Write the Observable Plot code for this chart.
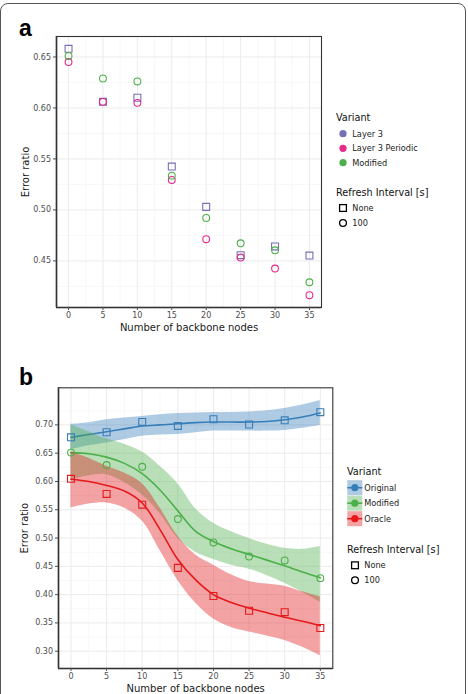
<!DOCTYPE html>
<html>
<head>
<meta charset="utf-8">
<script src="https://cdn.jsdelivr.net/npm/d3@7"></script>
<script src="https://cdn.jsdelivr.net/npm/@observablehq/plot@0.6"></script>
<style>
  body { margin: 0; background: #fff; }
  #fig { position: relative; width: 468px; height: 694px; font-family: "DejaVu Sans", sans-serif; overflow: hidden; }
  #border { position: absolute; left: 0; top: 3px; width: 464px; height: 710px; border: 1px solid #555; border-radius: 8px; }
  .panel { position: absolute; left: 0; }
  #overlay { position: absolute; left: 0; top: 0; pointer-events: none; }
</style>
</head>
<body>
<div id="fig"><div id="border"></div></div>
<script>
// ---- shared axis values ----
const nodes = [0, 5, 10, 15, 20, 25, 30, 35];
const xTicks = [0, 5, 10, 15, 20, 25, 30, 35];
const xMinor = [2.5, 7.5, 12.5, 17.5, 22.5, 27.5, 32.5];

// ---- panel a: error ratio per variant ----
const variantsA = ["Layer 3", "Layer 3 Periodic", "Modified"];
const intervalsA = ["None", "100", "100"];
const layer3 = [0.658, 0.606, 0.610, 0.5425, 0.503, 0.4556, 0.4642, 0.4552];
const layer3Periodic = [0.645, 0.606, 0.605, 0.5294, 0.4713, 0.4533, 0.4425, 0.4164];
const modified = [0.651, 0.629, 0.626, 0.5336, 0.4922, 0.4673, 0.4604, 0.4291];
const yTicksA = [0.45, 0.50, 0.55, 0.60, 0.65];
const yMinorA = [0.425, 0.475, 0.525, 0.575, 0.625];

// ---- panel b: error ratio with smoothed trend ----
const variantsB = ["Original", "Modified", "Oracle"];
const intervalsB = ["None", "100", "None"];
const original = [0.678, 0.687, 0.7053, 0.6982, 0.710, 0.7005, 0.708, 0.7224];
const oracle = [0.6047, 0.578, 0.559, 0.4473, 0.3976, 0.3715, 0.369, 0.341];
const yTicksB = [0.30, 0.35, 0.40, 0.45, 0.50, 0.55, 0.60, 0.65, 0.70];
const yMinorB = [0.275, 0.325, 0.375, 0.425, 0.475, 0.525, 0.575, 0.625, 0.675, 0.725];

// smoothed fit with its confidence band, sampled along the x axis
const smoothNodes = [0, 2.5, 5, 7.5, 10, 12.5, 15, 17.5, 20, 22.5, 25, 27.5, 30, 32.5, 35];
const originalFit  = [0.678, 0.683, 0.688, 0.693, 0.698, 0.700, 0.702, 0.704, 0.705, 0.705, 0.705, 0.706, 0.709, 0.714, 0.721];
const originalLow  = [0.656, 0.663, 0.668, 0.674, 0.680, 0.682, 0.683, 0.686, 0.689, 0.689, 0.689, 0.689, 0.690, 0.694, 0.699];
const originalHigh = [0.701, 0.704, 0.709, 0.712, 0.715, 0.718, 0.720, 0.721, 0.722, 0.722, 0.723, 0.725, 0.729, 0.735, 0.743];
const modifiedFit  = [0.651, 0.649, 0.643, 0.632, 0.614, 0.585, 0.548, 0.512, 0.494, 0.481, 0.471, 0.461, 0.451, 0.440, 0.430];
const modifiedLow  = [0.602, 0.610, 0.612, 0.598, 0.576, 0.543, 0.500, 0.475, 0.462, 0.452, 0.445, 0.434, 0.420, 0.404, 0.386];
const modifiedHigh = [0.700, 0.688, 0.675, 0.666, 0.652, 0.627, 0.596, 0.552, 0.526, 0.511, 0.499, 0.489, 0.482, 0.480, 0.485];
const oracleFit    = [0.604, 0.600, 0.593, 0.583, 0.562, 0.515, 0.462, 0.426, 0.400, 0.386, 0.376, 0.368, 0.360, 0.353, 0.345];
const oracleLow    = [0.553, 0.560, 0.562, 0.553, 0.530, 0.478, 0.425, 0.385, 0.357, 0.342, 0.334, 0.327, 0.319, 0.307, 0.292];
const oracleHigh   = [0.652, 0.641, 0.627, 0.615, 0.596, 0.553, 0.503, 0.470, 0.452, 0.435, 0.423, 0.419, 0.415, 0.405, 0.396];

// ---- tables ----
const seriesA = [layer3, layer3Periodic, modified];
const pointsA = variantsA.flatMap((v, i) => seriesA[i].map((r, j) => ({variant: v, interval: intervalsA[i], nodes: nodes[j], ratio: r})));
const seriesB = [original, modified, oracle];
const pointsB = variantsB.flatMap((v, i) => seriesB[i].map((r, j) => ({variant: v, interval: intervalsB[i], nodes: nodes[j], ratio: r})));
const fits = [[originalFit, originalLow, originalHigh], [modifiedFit, modifiedLow, modifiedHigh], [oracleFit, oracleLow, oracleHigh]];
const smoothB = variantsB.flatMap((v, i) => smoothNodes.map((x, j) => ({variant: v, nodes: x, fit: fits[i][0][j], low: fits[i][1][j], high: fits[i][2][j]})));

const colorsA = ["#7570B3", "#E7298A", "#4DAF4A"];
const colorsB = ["#377EB8", "#4DAF4A", "#E41A1C"];

// ggplot-style 5% padding around the data range
function expand(vals) {
  const lo = d3.min(vals), hi = d3.max(vals), pad = (hi - lo) * 0.05;
  return [lo - pad, hi + pad];
}

const fmt2 = d3.format(".2f");
const W = 468;

function panel({height, marginTop, marginBottom, marginLeft, marginRight, xDomain, yDomain, yTicks, yMinor, colorDomain, colorRange, points, labelDx, extra}) {
  return Plot.plot({
    width: W, height, marginTop, marginBottom, marginLeft, marginRight,
    style: {fontFamily: "DejaVu Sans, sans-serif", fontSize: "8px", background: "transparent", overflow: "visible"},
    x: {domain: xDomain},
    y: {domain: yDomain},
    color: {domain: colorDomain, range: colorRange},
    marks: [
      Plot.ruleX(xMinor, {stroke: "#f4f4f4", strokeWidth: 0.6}),
      Plot.ruleY(yMinor, {stroke: "#f4f4f4", strokeWidth: 0.6}),
      Plot.ruleX(xTicks, {stroke: "#ebebeb", strokeWidth: 1}),
      Plot.ruleY(yTicks, {stroke: "#ebebeb", strokeWidth: 1}),
      ...extra,
      Plot.dot(points.filter(d => d.interval === "None"), {x: "nodes", y: "ratio", stroke: "variant", symbol: "square", r: 3.9, strokeWidth: 1.1, fill: "none"}),
      Plot.dot(points.filter(d => d.interval !== "None"), {x: "nodes", y: "ratio", stroke: "variant", symbol: "circle", r: 3.4, strokeWidth: 1.1, fill: "none"}),
      Plot.frame({stroke: "#333", strokeWidth: 1.1}),
      Plot.ruleX([xDomain[0]], {stroke: "#333", strokeWidth: 1.6}),
      Plot.ruleY([yDomain[0]], {stroke: "#333", strokeWidth: 1.6}),
      Plot.axisX({ticks: xTicks, tickFormat: d => String(d), tickSize: 3, tickPadding: 2, label: null, color: "#4d4d4d"}),
      Plot.axisY({ticks: yTicks, tickFormat: fmt2, tickSize: 3, tickPadding: 2.5, label: null, color: "#4d4d4d"}),
      Plot.text(["Error ratio"], {text: d => d, frameAnchor: "left", textAnchor: "middle", lineAnchor: "middle", rotate: -90, dx: labelDx, fontSize: 10, fill: "#1a1a1a"}),
      Plot.text(["Number of backbone nodes"], {text: d => d, frameAnchor: "bottom", textAnchor: "middle", lineAnchor: "middle", dy: 20.5, fontSize: 10, fill: "#1a1a1a"})
    ]
  });
}

const fig = document.getElementById("fig");

// panel a
const xDomain = expand(nodes);
const plotA = panel({
  height: 340, marginTop: 36, marginBottom: 33, marginLeft: 56, marginRight: 147,
  xDomain, yDomain: expand(pointsA.map(d => d.ratio)),
  yTicks: yTicksA, yMinor: yMinorA, colorDomain: variantsA, colorRange: colorsA,
  points: pointsA, labelDx: -31, extra: []
});
plotA.classList.add("panel");
plotA.style.top = "0px";
fig.appendChild(plotA);

// panel b: band + trend line per variant, drawn group by group
const bandMarks = variantsB.flatMap(v => {
  const rows = smoothB.filter(d => d.variant === v);
  return [
    Plot.areaY(rows, {x: "nodes", y1: "low", y2: "high", fill: "variant", fillOpacity: 0.4, curve: "catmull-rom"}),
    Plot.line(rows, {x: "nodes", y: "fit", stroke: "variant", strokeWidth: 1.6, curve: "catmull-rom"})
  ];
});
const plotB = panel({
  height: 334, marginTop: 27.3, marginBottom: 26, marginLeft: 58, marginRight: 135.7,
  xDomain, yDomain: expand([...smoothB.map(d => d.low), ...smoothB.map(d => d.high), ...pointsB.map(d => d.ratio)]),
  yTicks: yTicksB, yMinor: yMinorB, colorDomain: variantsB, colorRange: colorsB,
  points: pointsB, labelDx: -34, extra: bandMarks
});
plotB.classList.add("panel");
plotB.style.top = "360px";
fig.appendChild(plotB);

// ---- panel tags and legends ----
const svg = d3.select(fig).append("svg").attr("id", "overlay").attr("width", W).attr("height", 694)
  .style("font-family", "DejaVu Sans, sans-serif");

svg.append("text").attr("x", 19).attr("y", 36).text("a")
  .style("font-family", "Liberation Sans, Arial, sans-serif").style("font-weight", "bold").style("font-size", "23px");
svg.append("text").attr("x", 19).attr("y", 385).text("b")
  .style("font-family", "Liberation Sans, Arial, sans-serif").style("font-weight", "bold").style("font-size", "23px");

function title(x, y, t) {
  svg.append("text").attr("x", x).attr("y", y).attr("dominant-baseline", "central")
    .style("font-size", "9.7px").attr("fill", "#111").text(t);
}
function label(x, y, t) {
  svg.append("text").attr("x", x).attr("y", y).attr("dominant-baseline", "central")
    .style("font-size", "8.2px").attr("fill", "#222").text(t);
}
function shapeKey(cx, cy, shape) {
  if (shape === "square") {
    svg.append("rect").attr("x", cx - 3.4).attr("y", cy - 3.4).attr("width", 6.8).attr("height", 6.8)
      .attr("fill", "none").attr("stroke", "#000").attr("stroke-width", 1.3);
  } else {
    svg.append("circle").attr("cx", cx).attr("cy", cy).attr("r", 3.4)
      .attr("fill", "none").attr("stroke", "#000").attr("stroke-width", 1.3);
  }
}
const intervalLabels = ["None", "100"];
const intervalShapes = ["square", "circle"];

// legend a
title(336, 117.7, "Variant");
[133.7, 148.3, 162.7].forEach((y, i) => {
  svg.append("circle").attr("cx", 343).attr("cy", y).attr("r", 3.6).attr("fill", colorsA[i]);
  label(352.3, y, variantsA[i]);
});
title(336, 192.7, "Refresh Interval [s]");
[208, 223].forEach((y, i) => { shapeKey(343, y, intervalShapes[i]); label(352.3, y, intervalLabels[i]); });

// legend b
title(347, 471.7, "Variant");
[487.7, 503.2, 518.7].forEach((y, i) => {
  svg.append("rect").attr("x", 347.3).attr("y", y - 7.5).attr("width", 15).attr("height", 15)
    .attr("fill", colorsB[i]).attr("fill-opacity", 0.4);
  svg.append("line").attr("x1", 347.3).attr("x2", 362.3).attr("y1", y).attr("y2", y)
    .attr("stroke", colorsB[i]).attr("stroke-width", 1.6);
  svg.append("circle").attr("cx", 354.8).attr("cy", y).attr("r", 3.6).attr("fill", colorsB[i]);
  label(364.3, y, variantsB[i]);
});
title(347, 549.3, "Refresh Interval [s]");
[565.3, 580.3].forEach((y, i) => { shapeKey(355, y, intervalShapes[i]); label(364.3, y, intervalLabels[i]); });
</script>
</body>
</html>
